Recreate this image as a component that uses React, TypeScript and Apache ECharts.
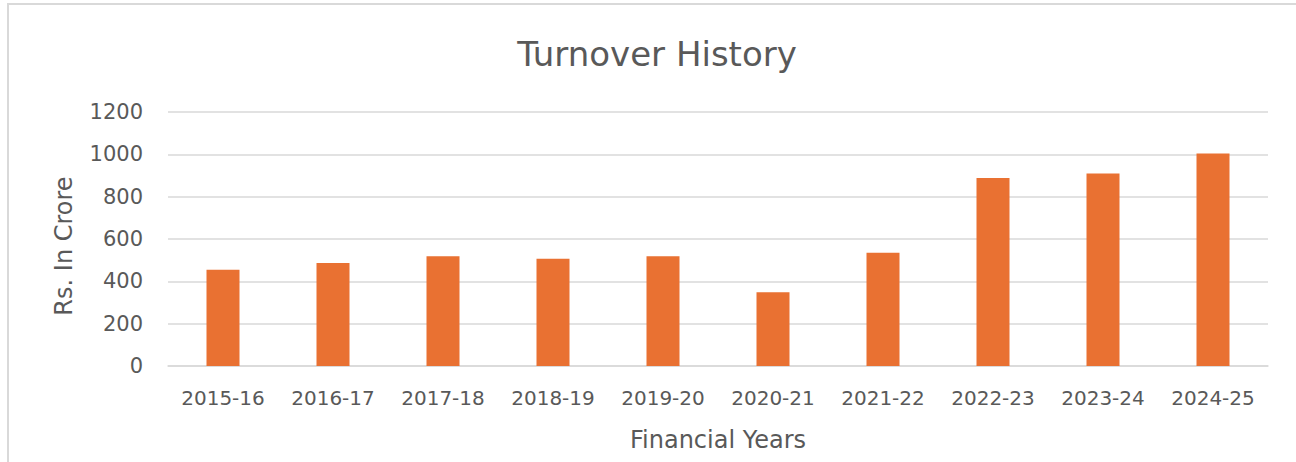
import React, { useEffect, useRef } from "react";
import * as echarts from "echarts";

const categories = ["2015-16", "2016-17", "2017-18", "2018-19", "2019-20", "2020-21", "2021-22", "2022-23", "2023-24", "2024-25"];
const turnover = [455, 487, 518, 507, 518, 348, 535, 888, 909, 1004];
const yTicks = { min: 0, max: 1200, interval: 200 };
const titleText = "Turnover History";
const xName = "Financial Years";
const yName = "Rs. In Crore";

const FONT = "DejaVu Sans";
const TXT = "#595959";

export default function App() {
  const ref = useRef<HTMLDivElement>(null);
  useEffect(() => {
    if (!ref.current) return;
    const chart = echarts.init(ref.current, undefined, { renderer: "svg" });
    chart.setOption({
      animation: false,
      backgroundColor: "#ffffff",
      title: {
        text: titleText,
        left: 652,
        top: 32,
        textAlign: "center",
        textStyle: { fontFamily: FONT, fontSize: 34, fontWeight: "normal", color: TXT },
      },
      graphic: [
        {
          type: "rect",
          shape: { x: 8, y: 4, width: 1400, height: 600 },
          style: { fill: "none", stroke: "#d9d9d9", lineWidth: 2 },
          silent: true,
        },
      ],
      grid: { left: 168, right: 28, top: 112, bottom: 96, containLabel: false },
      xAxis: {
        type: "category",
        data: categories,
        axisLine: { show: true, lineStyle: { color: "#d9d9d9", width: 1.5 } },
        axisTick: { show: false },
        axisLabel: { fontFamily: FONT, fontSize: 20, color: TXT, margin: 22 },
        name: xName,
        nameLocation: "middle",
        nameGap: 62,
        nameTextStyle: { fontFamily: FONT, fontSize: 24, color: TXT },
      },
      yAxis: {
        type: "value",
        min: yTicks.min,
        max: yTicks.max,
        interval: yTicks.interval,
        axisLine: { show: false },
        axisTick: { show: false },
        splitLine: { lineStyle: { color: "#d9d9d9", width: 1.5 } },
        axisLabel: {
          fontFamily: FONT,
          fontSize: 21,
          color: TXT,
          margin: 25,
          formatter: (v: number) => String(v),
        },
        name: yName,
        nameLocation: "middle",
        nameGap: 92,
        nameRotate: 90,
        nameTextStyle: { fontFamily: FONT, fontSize: 24, color: TXT, padding: [0, 14, 0, 0] },
      },
      series: [
        {
          type: "bar",
          data: turnover,
          barWidth: 33,
          itemStyle: { color: "#E97132" },
        },
      ],
    });
    return () => chart.dispose();
  }, []);
  return (
    <div
      ref={ref}
      style={{ position: "fixed", left: 0, top: 0, width: 1296, height: 462, background: "#fff" }}
    />
  );
}
